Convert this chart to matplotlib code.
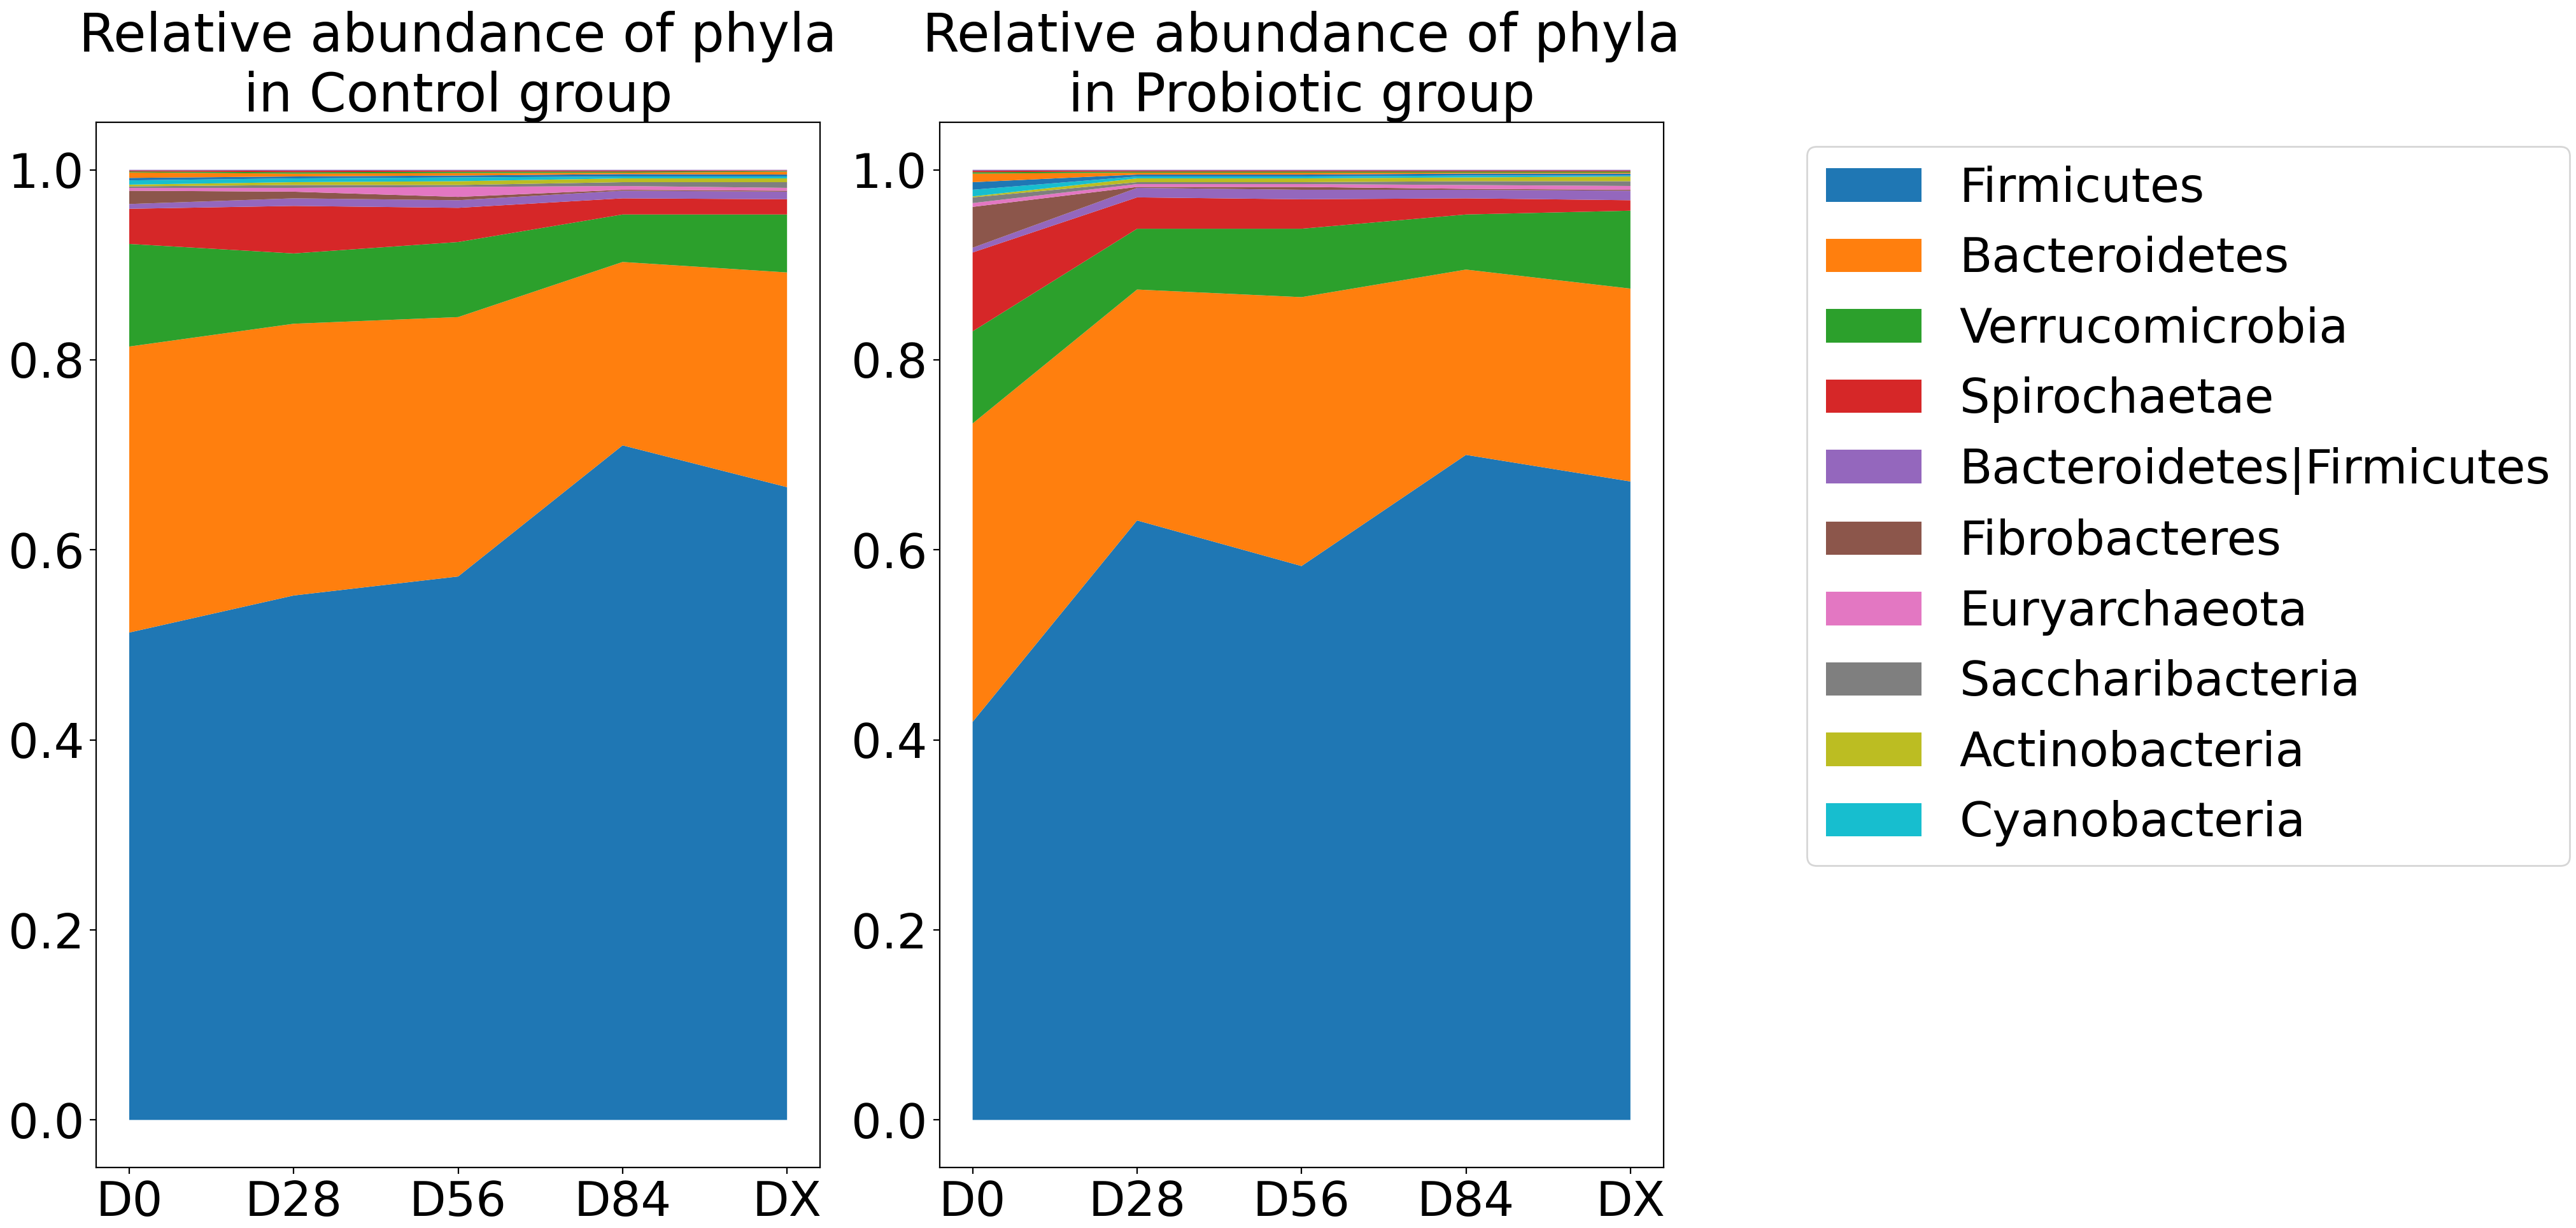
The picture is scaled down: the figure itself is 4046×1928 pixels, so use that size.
import matplotlib
matplotlib.use("Agg")
import matplotlib.pyplot as plt

days = ["D0", "D28", "D56", "D84", "DX"]

phyla = ["Firmicutes", "Bacteroidetes", "Verrucomicrobia", "Spirochaetae",
         "Bacteroidetes|Firmicutes", "Fibrobacteres", "Euryarchaeota",
         "Saccharibacteria", "Actinobacteria", "Cyanobacteria"]

# relative abundance per phylum (first 10 named in legend, rest are minor phyla)
control = [
    [0.513, 0.552, 0.572, 0.710, 0.666],
    [0.301, 0.286, 0.273, 0.193, 0.226],
    [0.108, 0.074, 0.079, 0.050, 0.061],
    [0.037, 0.050, 0.036, 0.017, 0.016],
    [0.005, 0.008, 0.008, 0.008, 0.008],
    [0.014, 0.007, 0.0035, 0.001, 0.001],
    [0.003, 0.004, 0.0105, 0.004, 0.003],
    [0.0016, 0.003, 0.002, 0.004, 0.006],
    [0.0018, 0.003, 0.004, 0.004, 0.004],
    [0.0045, 0.004, 0.004, 0.002, 0.002],
    [0.0026, 0.002, 0.002, 0.0025, 0.002],
    [0.0058, 0.003, 0.0026, 0.0015, 0.003],
    [0.0010, 0.0015, 0.0014, 0.0012, 0.0008],
    [0.0010, 0.0015, 0.0012, 0.0010, 0.0007],
    [0.0007, 0.0010, 0.0008, 0.0008, 0.0005],
]

probiotic = [
    [0.419, 0.631, 0.583, 0.700, 0.672],
    [0.314, 0.243, 0.283, 0.195, 0.203],
    [0.097, 0.064, 0.072, 0.058, 0.082],
    [0.083, 0.033, 0.031, 0.017, 0.011],
    [0.005, 0.010, 0.010, 0.009, 0.010],
    [0.043, 0.001, 0.003, 0.001, 0.001],
    [0.004, 0.003, 0.003, 0.004, 0.004],
    [0.006, 0.002, 0.002, 0.004, 0.005],
    [0.001, 0.004, 0.004, 0.004, 0.005],
    [0.007, 0.002, 0.002, 0.002, 0.001],
    [0.008, 0.002, 0.002, 0.002, 0.002],
    [0.009, 0.002, 0.002, 0.001, 0.001],
    [0.0015, 0.0012, 0.0012, 0.0012, 0.0012],
    [0.0015, 0.0010, 0.0010, 0.0010, 0.0010],
    [0.0010, 0.0008, 0.0008, 0.0008, 0.0008],
]

plt.rcParams["font.size"] = 27

fig = plt.figure(figsize=(20.23, 9.64), dpi=200)
ax1 = fig.add_axes([0.0374, 0.0493, 0.2809, 0.8511])
ax2 = fig.add_axes([0.3648, 0.0493, 0.2809, 0.8511])

x = range(len(days))
ax1.stackplot(x, control, labels=phyla)
ax2.stackplot(x, probiotic, labels=phyla)

for ax, grp in [(ax1, "Control"), (ax2, "Probiotic")]:
    ax.set_xticks(list(x))
    ax.set_xticklabels(days)
    ax.set_xlim(-0.2, 4.2)
    ax.set_ylim(-0.05, 1.05)
    ax.set_title("Relative abundance of phyla\nin " + grp + " group", fontsize=30)

ax2.legend(loc="upper left", bbox_to_anchor=(1.165, 1.0))

fig.savefig("out.png", dpi=200)
